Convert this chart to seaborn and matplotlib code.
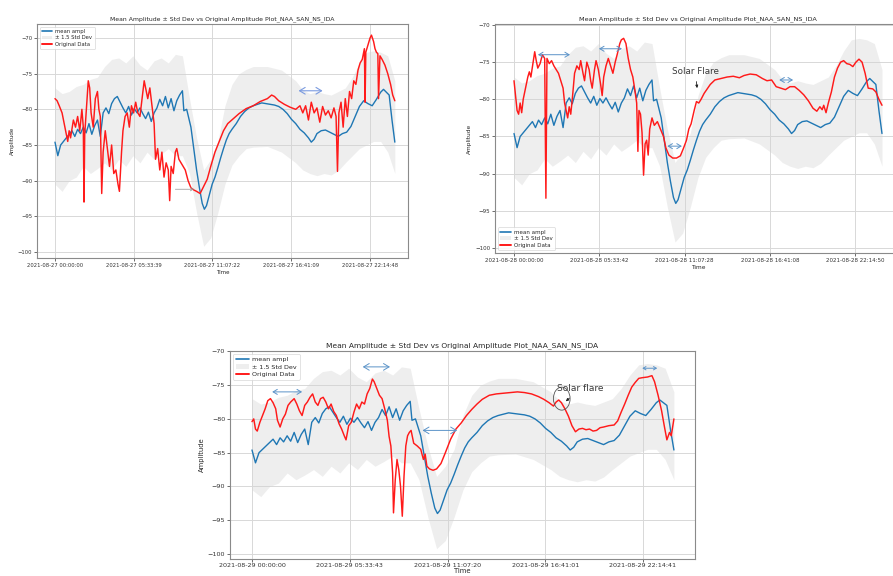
import matplotlib
matplotlib.use("Agg")
import matplotlib.pyplot as plt
import seaborn as sns
import pandas as pd
from matplotlib.patches import Ellipse, Patch
from matplotlib.lines import Line2D

# ---------------- data (hours of day, amplitude) ----------------
mean_hours = [0.0, 0.2, 0.4, 0.6, 0.8, 1.0, 1.2, 1.4, 1.6, 1.8, 2.0, 2.2, 2.4, 2.6, 2.8,
              3.0, 3.2, 3.4, 3.6, 3.8, 4.0, 4.2, 4.4, 4.6, 4.8, 5.0, 5.2, 5.4, 5.6, 5.8,
              6.0, 6.2, 6.4, 6.6, 6.8, 7.0, 7.2, 7.4, 7.6, 7.8, 8.0, 8.2, 8.4, 8.6, 8.8,
              9.0, 9.1, 9.3, 9.6, 9.8, 10.0, 10.2, 10.4, 10.55, 10.7, 10.9, 11.1, 11.3,
              11.5, 11.7, 11.9, 12.1, 12.3, 12.5, 12.8, 13.1, 13.4, 13.7, 14.0, 14.3,
              14.6, 14.9, 15.2, 15.5, 15.8, 16.1, 16.4, 16.7, 17.0, 17.3, 17.6, 17.9,
              18.1, 18.3, 18.5, 18.8, 19.1, 19.4, 19.7, 20.0, 20.3, 20.6, 20.9, 21.2,
              21.5, 21.8, 22.1, 22.4, 22.7, 23.0, 23.2, 23.4, 23.6, 23.8, 24.0]
mean_vals = [-84.6, -86.5, -85.0, -84.5, -84.0, -83.5, -83.0, -83.8, -82.8, -83.4, -82.5,
             -83.3, -82.0, -83.5, -82.3, -81.5, -83.8, -80.5, -79.8, -80.6, -79.2, -78.5,
             -78.2, -79.0, -79.8, -80.5, -79.6, -80.8, -79.9, -80.5, -79.8, -80.6, -81.3,
             -80.4, -81.7, -80.5, -79.8, -78.6, -79.5, -78.2, -79.8, -78.5, -80.2, -78.8,
             -78.0, -77.4, -80.2, -80.0, -82.5, -85.5, -88.5, -91.0, -93.2, -94.0, -93.5,
             -92.0, -90.5, -89.5, -88.2, -86.8, -85.5, -84.3, -83.4, -82.8, -82.0, -81.0,
             -80.3, -79.8, -79.5, -79.3, -79.1, -79.2, -79.3, -79.4, -79.6, -80.0, -80.6,
             -81.4, -82.0, -82.8, -83.3, -84.0, -84.6, -84.2, -83.4, -83.0, -82.9, -83.2,
             -83.5, -83.8, -83.4, -83.2, -82.4, -81.0, -79.6, -78.8, -79.2, -79.5, -78.6,
             -77.6, -77.2, -77.6, -78.0, -81.5, -84.6]

band_hours = [0, 0.5, 1, 1.5, 2, 2.5, 3, 3.5, 4, 4.5, 5, 5.5, 6, 6.5, 7, 7.5, 8, 8.5, 9,
              9.5, 10, 10.5, 11, 11.5, 12, 12.5, 13, 13.5, 14, 15, 16, 17, 17.5, 18, 18.5,
              19, 19.5, 20, 20.5, 21, 21.5, 22, 22.5, 23, 23.5, 24]
band_upper = [-77.0, -77.8, -77.5, -76.8, -76.5, -75.8, -75.5, -74.0, -73.0, -72.8, -73.5,
              -72.5, -73.8, -74.5, -73.2, -72.8, -73.5, -72.3, -72.5, -78.5, -84.0, -88.5,
              -87.0, -84.5, -79.5, -76.5, -75.0, -74.4, -74.0, -74.0, -74.5, -76.0, -77.3,
              -77.8, -77.5, -77.8, -78.0, -77.5, -77.0, -75.5, -73.5, -72.0, -71.8, -72.0,
              -72.5, -76.0]
band_lower = [-90.5, -91.5, -90.0, -89.5, -88.0, -89.0, -88.3, -87.5, -88.5, -87.0, -88.0,
              -86.5, -87.5, -86.0, -87.0, -86.3, -85.5, -86.5, -86.5, -89.0, -94.5, -99.2,
              -98.0, -94.5, -90.5, -87.8, -86.5, -85.5, -85.3, -85.2, -86.0, -87.5, -88.5,
              -89.0, -89.3, -89.0, -89.2, -88.6, -87.5, -86.5, -85.5, -85.0, -84.5, -84.5,
              -86.0, -89.0]

aug27_hours = [0.0, 0.15, 0.3, 0.5, 0.7, 0.9, 1.0, 1.1, 1.3, 1.45, 1.6, 1.75, 1.9, 2.0,
               2.05, 2.1, 2.25, 2.35, 2.45, 2.55, 2.7, 2.85, 3.0, 3.1, 3.2, 3.3, 3.4, 3.55,
               3.7, 3.85, 4.0, 4.15, 4.3, 4.45, 4.55, 4.7, 4.8, 4.95, 5.1, 5.25, 5.4, 5.55,
               5.7, 5.85, 6.0, 6.15, 6.3, 6.45, 6.55, 6.7, 6.85, 7.0, 7.1, 7.25, 7.4, 7.55,
               7.7, 7.85, 8.0, 8.1, 8.2, 8.35, 8.5, 8.6, 8.75, 8.9, 9.05, 9.2, 9.4, 9.6, 9.8,
               10.0, 10.25, 10.5, 10.75, 11.0, 11.3, 11.6, 11.9, 12.2, 12.6, 13.0, 13.5,
               14.0, 14.5, 15.0, 15.3, 15.5, 15.8, 16.2, 16.6, 17.0, 17.3, 17.5, 17.7, 17.9,
               18.1, 18.3, 18.5, 18.7, 18.9, 19.1, 19.3, 19.5, 19.7, 19.85, 19.95, 20.05,
               20.2, 20.35, 20.5, 20.65, 20.8, 20.95, 21.1, 21.25, 21.4, 21.55, 21.7, 21.85,
               21.9, 21.95, 22.1, 22.25, 22.35, 22.5, 22.6, 22.7, 22.8, 22.85, 22.95, 23.1,
               23.3, 23.5, 23.7, 23.85, 24.0]
aug27_vals = [-78.5, -78.8, -79.5, -80.5, -82.5, -84.5, -83.0, -84.0, -81.5, -82.5, -81.0,
              -83.0, -80.0, -82.5, -93.0, -83.5, -79.0, -76.0, -77.0, -80.5, -82.5, -78.5,
              -77.5, -80.0, -81.0, -91.8, -86.0, -83.0, -85.5, -88.0, -85.0, -89.0, -88.5,
              -90.5, -91.5, -86.0, -83.0, -81.0, -80.5, -82.5, -79.5, -80.5, -79.0, -80.5,
              -81.0, -78.5, -76.0, -77.5, -78.5, -77.0, -79.5, -82.0, -87.0, -85.5, -88.5,
              -86.0, -89.5, -87.5, -88.5, -92.8, -88.0, -89.0, -86.0, -85.5, -87.0, -87.5,
              -88.0, -88.5, -90.0, -91.0, -91.3, -91.5, -91.8, -90.8, -89.8, -88.0, -86.0,
              -84.5, -83.0, -82.0, -81.3, -80.6, -79.9, -79.5, -78.9, -78.5, -78.0, -78.2,
              -78.8, -79.3, -79.7, -80.0, -79.5, -80.5, -79.5, -81.5, -79.0, -80.5, -79.8,
              -81.8, -79.6, -80.8, -80.2, -81.2, -79.8, -81.0, -88.7, -80.5, -79.0, -82.5,
              -78.5, -81.0, -77.5, -78.5, -76.0, -76.5, -74.5, -73.5, -73.0, -71.5, -79.0,
              -72.0, -71.0, -70.0, -69.6, -70.5, -71.5, -72.0, -72.2, -78.5, -72.5, -73.0,
              -73.8, -75.0, -76.5, -78.0, -78.8]

aug28_hours = [0.0, 0.1, 0.2, 0.3, 0.4, 0.5, 0.6, 0.75, 0.9, 1.0, 1.1, 1.25, 1.35, 1.45,
               1.55, 1.7, 1.85, 2.0, 2.08, 2.15, 2.3, 2.45, 2.6, 2.75, 2.9, 3.05, 3.2, 3.3,
               3.4, 3.5, 3.6, 3.7, 3.8, 3.95, 4.1, 4.25, 4.35, 4.5, 4.6, 4.75, 4.9, 5.0,
               5.1, 5.25, 5.35, 5.5, 5.65, 5.75, 5.85, 6.0, 6.15, 6.3, 6.45, 6.6, 6.75, 6.9,
               7.0, 7.15, 7.3, 7.45, 7.6, 7.75, 7.9, 8.0, 8.08, 8.15, 8.25, 8.35, 8.45, 8.55,
               8.65, 8.75, 8.85, 9.0, 9.15, 9.35, 9.55, 9.75, 9.9, 10.1, 10.35, 10.6, 10.85,
               11.05, 11.25, 11.4, 11.55, 11.75, 11.9, 12.05, 12.2, 12.4, 12.6, 12.8, 13.1,
               13.5, 13.9, 14.3, 14.7, 15.0, 15.4, 15.8, 16.2, 16.5, 16.8, 17.1, 17.4, 17.7,
               18.0, 18.3, 18.6, 18.9, 19.2, 19.5, 19.75, 19.95, 20.1, 20.2, 20.35, 20.5,
               20.7, 20.9, 21.1, 21.3, 21.5, 21.7, 21.9, 22.1, 22.3, 22.5, 22.7, 22.9, 23.1,
               23.4, 23.6, 23.8, 24.0]
aug28_vals = [-77.5, -79.5, -81.5, -82.0, -80.5, -81.8, -80.0, -78.5, -77.0, -76.3, -77.0,
              -75.0, -73.6, -74.8, -75.8, -75.2, -74.0, -74.5, -93.3, -74.5, -75.2, -74.8,
              -75.5, -76.0, -76.5, -77.5, -78.5, -80.5, -81.5, -82.5, -81.0, -82.0, -80.0,
              -76.5, -75.5, -76.0, -74.8, -76.5, -77.5, -75.0, -76.0, -77.5, -78.5, -76.0,
              -74.8, -76.0, -78.0, -79.5, -77.0, -75.5, -74.5, -75.5, -76.5, -75.0, -73.8,
              -72.5, -72.0, -71.8, -72.5, -74.5, -76.0, -77.0, -79.0, -80.5, -87.0, -81.5,
              -82.0, -84.5, -90.2, -86.0, -85.5, -87.5, -84.0, -82.5, -83.5, -83.0, -84.0,
              -85.0, -86.5, -87.5, -87.9, -87.9, -87.6, -86.6, -85.5, -84.0, -83.3, -81.5,
              -80.3, -80.5, -80.0, -79.2, -78.6, -78.0, -77.4, -77.2, -77.0, -76.9, -77.1,
              -76.8, -76.6, -76.7, -77.2, -77.5, -77.4, -78.3, -78.5, -78.7, -78.3, -78.3,
              -78.8, -79.4, -80.2, -81.2, -81.6, -81.0, -81.4, -80.8, -81.8, -80.5, -79.0,
              -77.0, -75.8, -75.0, -74.8, -75.2, -75.3, -75.6, -75.0, -74.6, -75.0, -76.5,
              -78.5, -78.6, -79.0, -80.0, -80.8]

aug29_hours = [0.0, 0.1, 0.2, 0.3, 0.45, 0.6, 0.75, 0.9, 1.05, 1.2, 1.35, 1.45, 1.6, 1.75,
               1.9, 2.05, 2.2, 2.4, 2.55, 2.7, 2.85, 3.0, 3.15, 3.3, 3.45, 3.6, 3.75, 3.9,
               4.05, 4.2, 4.35, 4.5, 4.65, 4.8, 4.95, 5.1, 5.25, 5.35, 5.5, 5.65, 5.8, 5.95,
               6.1, 6.25, 6.4, 6.55, 6.7, 6.85, 6.95, 7.1, 7.25, 7.4, 7.55, 7.7, 7.8, 7.9,
               8.0, 8.05, 8.15, 8.25, 8.35, 8.45, 8.55, 8.65, 8.75, 8.85, 8.95, 9.05, 9.2,
               9.4, 9.6, 9.75, 9.85, 9.95, 10.1, 10.3, 10.5, 10.75, 11.0, 11.3, 11.6, 11.9,
               12.2, 12.5, 12.8, 13.1, 13.5, 13.9, 14.3, 14.7, 15.1, 15.5, 15.9, 16.3, 16.6,
               16.9, 17.15, 17.3, 17.45, 17.6, 17.8, 18.0, 18.2, 18.4, 18.6, 18.8, 19.0,
               19.2, 19.4, 19.6, 19.8, 20.0, 20.3, 20.6, 20.8, 21.0, 21.2, 21.4, 21.6, 21.8,
               22.0, 22.2, 22.5, 22.75, 22.9, 23.1, 23.3, 23.45, 23.6, 23.75, 23.85, 24.0]
aug29_vals = [-80.4, -80.0, -81.5, -81.8, -80.5, -79.5, -78.5, -77.3, -77.0, -77.6, -78.5,
              -80.2, -81.2, -80.0, -79.3, -78.0, -77.5, -77.0, -77.8, -78.8, -79.5, -78.0,
              -77.5, -76.8, -76.3, -77.5, -78.0, -77.0, -76.8, -77.5, -78.5, -77.8, -78.9,
              -79.5, -80.7, -81.5, -82.5, -83.1, -81.0, -80.5, -79.0, -77.8, -78.5, -77.5,
              -77.8, -76.3, -75.5, -74.1, -74.5, -75.5, -76.5, -77.0, -78.5, -80.2, -82.6,
              -84.0, -88.0, -93.9, -89.0, -86.0, -87.5, -90.0, -94.4, -88.4, -84.0, -82.5,
              -82.0, -81.7, -83.6, -84.0, -84.5, -86.0, -85.2, -87.0, -87.4, -87.6, -87.4,
              -86.6, -85.0, -83.0, -81.5, -80.6, -79.5, -78.6, -77.8, -77.1, -76.5, -76.3,
              -76.2, -76.1, -76.0, -76.1, -76.3, -76.7, -77.1, -77.6, -78.1, -77.5, -77.2,
              -77.6, -78.5, -79.6, -81.0, -81.9, -81.5, -81.4, -81.6, -81.5, -81.8, -81.7,
              -81.3, -81.2, -81.0, -80.9, -80.3, -79.0, -77.8, -76.5, -75.3, -74.6, -74.0,
              -73.9, -73.8, -73.6, -74.5, -76.5, -78.8, -81.0, -83.1, -82.0, -82.5, -80.0]

title_text = "Mean Amplitude \u00b1 Std Dev vs Original Amplitude Plot_NAA_SAN_NS_IDA"
legend_labels = ["mean ampl", "\u00b1 1.5 Std Dev", "Original Data"]
ticks_27 = ["2021-08-27 00:00:00", "2021-08-27 05:33:39", "2021-08-27 11:07:22",
            "2021-08-27 16:41:09", "2021-08-27 22:14:48"]
ticks_28 = ["2021-08-28 00:00:00", "2021-08-28 05:33:42", "2021-08-28 11:07:28",
            "2021-08-28 16:41:08", "2021-08-28 22:14:50"]
ticks_29 = ["2021-08-29 00:00:00", "2021-08-29 05:33:43", "2021-08-29 11:07:20",
            "2021-08-29 16:41:01", "2021-08-29 22:14:41"]
y_ticks = [-70, -75, -80, -85, -90, -95, -100]

# ---------------- style ----------------
sns.set_style("whitegrid", {"axes.edgecolor": "#8a8a8a", "grid.color": "#d8d8d8",
                            "xtick.bottom": True, "ytick.left": True,
                            "xtick.color": "#333333", "ytick.color": "#333333"})
plt.rcParams["font.family"] = ["DejaVu Sans"]

BLUE = "#1f77b4"
RED = "#ff1a1a"
ARROW = "#5b93c8"
BAND_ALPHA = 0.38

mean_df = pd.DataFrame({"h": mean_hours, "v": mean_vals})


def tick_pos(labels):
    out = []
    for s in labels:
        hh, mm, ss = s.split(" ")[1].split(":")
        out.append(int(hh) + int(mm) / 60 + int(ss) / 3600)
    return out


def panel(ax, hours, vals, ticks, fs, ylim, xlim, legend_loc, xlabelpad=1.5, tickpad=1.5):
    ax.fill_between(band_hours, band_lower, band_upper, color="lightgray",
                    alpha=BAND_ALPHA, linewidth=0, zorder=1)
    sns.lineplot(data=mean_df, x="h", y="v", ax=ax, color=BLUE, lw=1.0,
                 estimator=None, sort=False, zorder=3)
    red_df = pd.DataFrame({"h": hours, "v": vals})
    sns.lineplot(data=red_df, x="h", y="v", ax=ax, color=RED, lw=1.05,
                 estimator=None, sort=False, zorder=4)
    ax.set_xlim(*xlim)
    ax.set_ylim(*ylim)
    ax.set_xticks(tick_pos(ticks))
    ax.set_xticklabels(ticks, fontsize=fs)
    ax.set_yticks(y_ticks)
    ax.tick_params(axis="both", labelsize=fs, length=2, width=0.5, pad=1.5)
    ax.tick_params(axis="x", pad=tickpad)
    ax.set_xlabel("Time", fontsize=fs * 1.05, labelpad=xlabelpad)
    ax.set_ylabel("Amplitude", fontsize=fs * 1.05, labelpad=2)
    ax.set_title(title_text, fontsize=fs * 1.17, pad=3)
    for sp in ax.spines.values():
        sp.set_linewidth(0.8)
    ax.grid(True, lw=0.7)
    handles = [Line2D([], [], color=BLUE, lw=1.2),
               Patch(facecolor="lightgray", alpha=BAND_ALPHA, edgecolor="none"),
               Line2D([], [], color=RED, lw=1.4)]
    leg = ax.legend(handles, legend_labels, loc=legend_loc, fontsize=fs,
                    frameon=True, framealpha=0.85, borderpad=0.4, labelspacing=0.3,
                    handlelength=2.0, handletextpad=0.6)
    leg.get_frame().set_edgecolor("#d0d0d0")
    leg.get_frame().set_linewidth(0.5)


def dbl_arrow(ax, x0, x1, y, color=ARROW, lw=0.7, style="<->", ms=3):
    ax.annotate("", xy=(x1, y), xytext=(x0, y),
                arrowprops=dict(arrowstyle=style + f",head_length={ms*0.1},head_width={ms*0.06}",
                                color=color, lw=lw, shrinkA=0, shrinkB=0), zorder=6)


fig = plt.figure(figsize=(8.93, 5.76), dpi=100)

# panel 1 (Aug 27)
ax1 = fig.add_axes([37 / 893, 1 - 258 / 576, 371 / 893, 234 / 576])
panel(ax1, aug27_hours, aug27_vals, ticks_27, 3.8, (-100.84, -68.04), (-1.27, 24.93),
      "upper left")
dbl_arrow(ax1, 17.2, 18.9, -77.4, color="#7b9be0", lw=0.8, ms=4)
dbl_arrow(ax1, 8.5, 9.8, -91.2, color="#909090", lw=0.5, style="->", ms=2)

# panel 2 (Aug 28)
ax2 = fig.add_axes([495 / 893, 1 - 253 / 576, 406 / 893, 229 / 576])
panel(ax2, aug28_hours, aug28_vals, ticks_28, 4.0, (-100.67, -69.87), (-1.24, 25.24),
      "lower left")
dbl_arrow(ax2, 1.56, 3.65, -74.0)
dbl_arrow(ax2, 5.54, 7.04, -73.2)
dbl_arrow(ax2, 10.0, 10.95, -86.3)
dbl_arrow(ax2, 17.3, 18.2, -77.4)
ax2.annotate("Solar Flare", xy=(11.94, -78.5), xytext=(10.3, -76.2),
             fontsize=6.3, color="#3a3a3a", ha="left", va="center",
             arrowprops=dict(arrowstyle="-|>,head_length=0.25,head_width=0.12",
                             color="#222222", lw=0.6, shrinkA=2, shrinkB=0),
             zorder=7)

# panel 3 (Aug 29)
ax3 = fig.add_axes([230 / 893, 1 - 559 / 576, 465 / 893, 208 / 576])
panel(ax3, aug29_hours, aug29_vals, ticks_29, 4.6, (-100.73, -69.95), (-1.25, 25.2),
      "upper left", xlabelpad=0.0, tickpad=1.0)
dbl_arrow(ax3, 1.15, 2.85, -76.0)
dbl_arrow(ax3, 6.3, 7.85, -72.3, ms=4)
dbl_arrow(ax3, 9.7, 11.67, -81.7, ms=4)
dbl_arrow(ax3, 22.2, 23.05, -72.5, ms=2)
ax3.add_patch(Ellipse((17.62, -77.0), width=0.95, height=3.4, fill=False,
                      edgecolor="#555555", lw=0.6, zorder=7))
ax3.annotate("Solar flare", xy=(17.85, -77.4), xytext=(17.35, -75.5),
             fontsize=6.5, color="#3a3a3a", ha="left", va="center",
             arrowprops=dict(arrowstyle="-|>,head_length=0.25,head_width=0.12",
                             color="#222222", lw=0.6, shrinkA=2, shrinkB=0),
             zorder=7)

fig.savefig("out.png", dpi=100, facecolor="white")
